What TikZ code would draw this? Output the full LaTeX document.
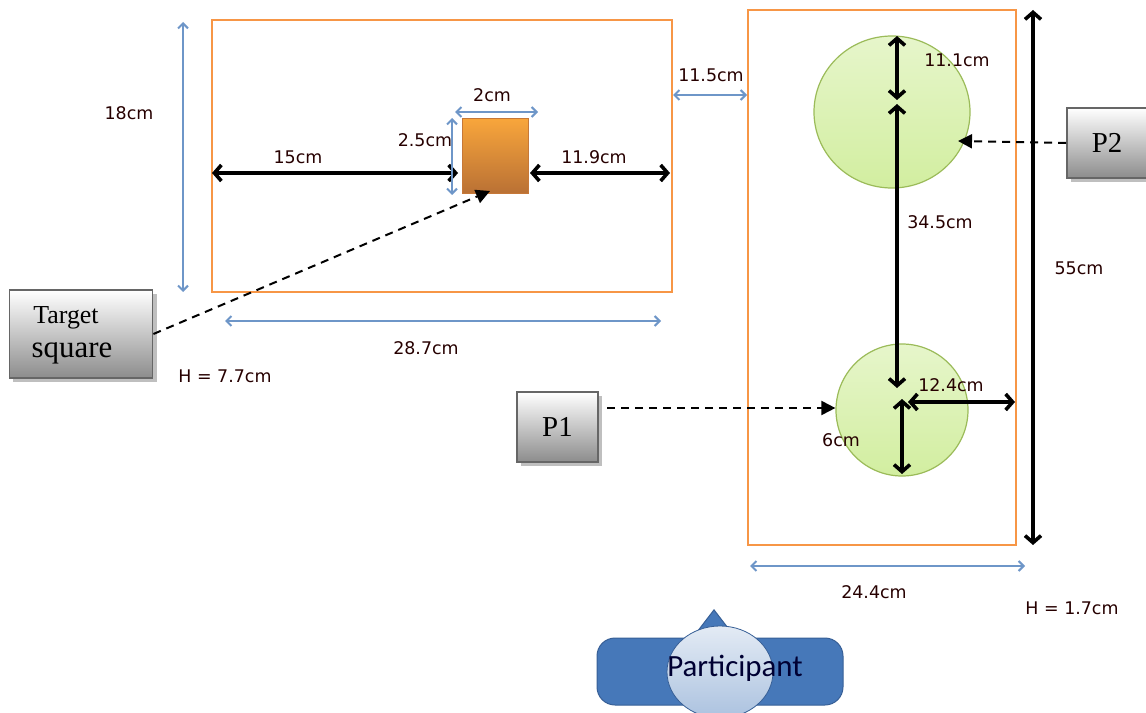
\documentclass[tikz,border=0pt]{standalone}
\usepackage{fontspec}
\setmainfont{Liberation Serif}
\newfontfamily\dimfont{DejaVu Sans}
\newfontfamily\calfont{Carlito}
\usetikzlibrary{arrows.meta,shadows,shapes.geometric}
\definecolor{boxorange}{RGB}{247,150,70}
\definecolor{dimblue}{RGB}{110,150,200}
\definecolor{circfill}{RGB}{210,238,160}
\definecolor{circdraw}{RGB}{155,187,89}
\definecolor{partblue}{RGB}{70,120,185}
\definecolor{partdraw}{RGB}{55,95,150}
\tikzset{
  area/.style={draw=boxorange, line width=1.5bp},
  bluedim/.style={draw=dimblue, line width=2bp, {Straight Barb[length=5bp,width=10bp]}-{Straight Barb[length=5bp,width=10bp]}},
  blackdim/.style={draw=black, line width=3.6bp, {Straight Barb[length=7bp,width=16bp]}-{Straight Barb[length=7bp,width=16bp]}},
  dimlabel/.style={font=\dimfont\fontsize{17.5}{20}\selectfont, inner sep=0pt, text=black!85!red},
  pointer/.style={draw=black, line width=2bp, dash pattern=on 8bp off 6bp, -{Triangle[length=14bp,width=14bp]}},
  greybox/.style={draw=black!60, line width=1.8bp, top color=white, bottom color=black!45, drop shadow={shadow xshift=4bp, shadow yshift=-4bp, fill=black!25, opacity=1}, inner sep=0pt},
  circ/.style={draw=circdraw, line width=1.2bp, top color=circfill!55, bottom color=circfill, ellipse}
}
\begin{document}
\begin{tikzpicture}[x=1bp,y=-1bp]
\useasboundingbox (0,0) rectangle (1146,713);
% left area
\node[area, minimum width=460bp, minimum height=272bp, inner sep=0pt] (leftarea) at (442,156) {};
\coordinate (l18a) at (183,22); \coordinate (l18b) at (183,292);
\draw[bluedim] (l18a) -- (l18b);
\node[dimlabel] (t18) at (129,113) {18cm};
\coordinate (l287a) at (225,321); \coordinate (l287b) at (661,321);
\draw[bluedim] (l287a) -- (l287b);
\node[dimlabel] (t287) at (426,348) {28.7cm};
\node[dimlabel] (th77) at (225,376) {H = 7.7cm};
% target square
\node[draw=boxorange!80!black, line width=0.8bp, top color=boxorange!85!yellow, bottom color=boxorange!75!black, minimum width=66bp, minimum height=75bp, inner sep=0pt] (target) at (495,156) {};
\coordinate (l15a) at (212,173); \coordinate (l15b) at (458,173);
\draw[blackdim] (l15a) -- (l15b);
\node[dimlabel] (t15) at (298,157) {15cm};
\coordinate (l119a) at (530,173); \coordinate (l119b) at (670,173);
\draw[blackdim] (l119a) -- (l119b);
\node[dimlabel] (t119) at (594,157) {11.9cm};
\coordinate (l2a) at (455,112); \coordinate (l2b) at (538,112);
\draw[bluedim] (l2a) -- (l2b);
\node[dimlabel] (t2) at (492,95) {2cm};
\coordinate (l25a) at (452,118); \coordinate (l25b) at (452,195);
\draw[bluedim] (l25a) -- (l25b);
\node[dimlabel] (t25) at (425,140) {2.5cm};
% gap
\coordinate (l115a) at (673,95); \coordinate (l115b) at (747,95);
\draw[bluedim] (l115a) -- (l115b);
\node[dimlabel] (t115) at (711,75) {11.5cm};
% right area
\node[area, minimum width=268bp, minimum height=535bp, inner sep=0pt] (rightarea) at (882,277.5) {};
\node[circ, minimum width=156bp, minimum height=152bp] (c2) at (892,112) {};
\node[circ, minimum width=132bp, minimum height=132bp] (c1) at (902,410) {};
\coordinate (a1) at (897,36); \coordinate (a2) at (897,100);
\draw[blackdim] (a1) -- (a2);
\node[dimlabel] (t111) at (957,60) {11.1cm};
\coordinate (b1) at (897,104); \coordinate (b2) at (897,388);
\draw[blackdim] (b1) -- (b2);
\node[dimlabel] (t345) at (940,222) {34.5cm};
\coordinate (d1) at (902,399); \coordinate (d2) at (902,474);
\draw[blackdim] (d1) -- (d2);
\node[dimlabel] (t6) at (841,440) {6cm};
\coordinate (e1) at (908,402); \coordinate (e2) at (1015,402);
\draw[blackdim] (e1) -- (e2);
\node[dimlabel] (t124) at (951,385) {12.4cm};
\coordinate (f1) at (1033,10); \coordinate (f2) at (1033,545);
\draw[blackdim] (f1) -- (f2);
\node[dimlabel] (t55) at (1079,268) {55cm};
\coordinate (g1) at (750,566); \coordinate (g2) at (1025,566);
\draw[bluedim] (g1) -- (g2);
\node[dimlabel] (t244) at (874,592) {24.4cm};
\node[dimlabel] (th17) at (1072,608) {H = 1.7cm};
% labels boxes
\node[greybox, minimum width=143bp, minimum height=88bp] (tbox) at (81,334) {};
\node[font=\fontsize{26}{30}\selectfont, inner sep=0pt] (ttarget) at (66,318) {Target};
\node[font=\fontsize{31}{34}\selectfont, inner sep=0pt] (tsquare) at (72,353) {square};
\node[greybox, minimum width=81bp, minimum height=70bp, font=\fontsize{29}{32}\selectfont] (p1box) at (557.5,427) {P1};
\node[greybox, minimum width=86bp, minimum height=70bp, font=\fontsize{29}{32}\selectfont] (p2box) at (1110,143) {\hspace*{-6bp}P2};
\draw[pointer] (tbox.east) -- (490,191);
\draw[pointer] (607,408) -- (c1.west |- 0,408);
\draw[pointer] (p2box.west) -- (958,141);
% participant
\node[draw=partdraw, line width=1bp, fill=partblue, rounded corners=18bp, minimum width=246bp, minimum height=67bp] (pbody) at (720,671.5) {};
\node[draw=partdraw, line width=1bp, fill=partblue, isosceles triangle, shape border rotate=90, isosceles triangle apex angle=75, minimum height=26bp, inner sep=0pt] (phead) at (714,626) {};
\node[draw=partdraw, line width=0.8bp, top color=partblue!15!white, bottom color=partblue!45!white, ellipse, minimum width=106bp, minimum height=92bp] (pface) at (720,672) {};
\node[font=\calfont\fontsize{31}{34}\selectfont, text=black!80!blue] (ptext) at (735,668) {Participant};
\end{tikzpicture}
\end{document}
